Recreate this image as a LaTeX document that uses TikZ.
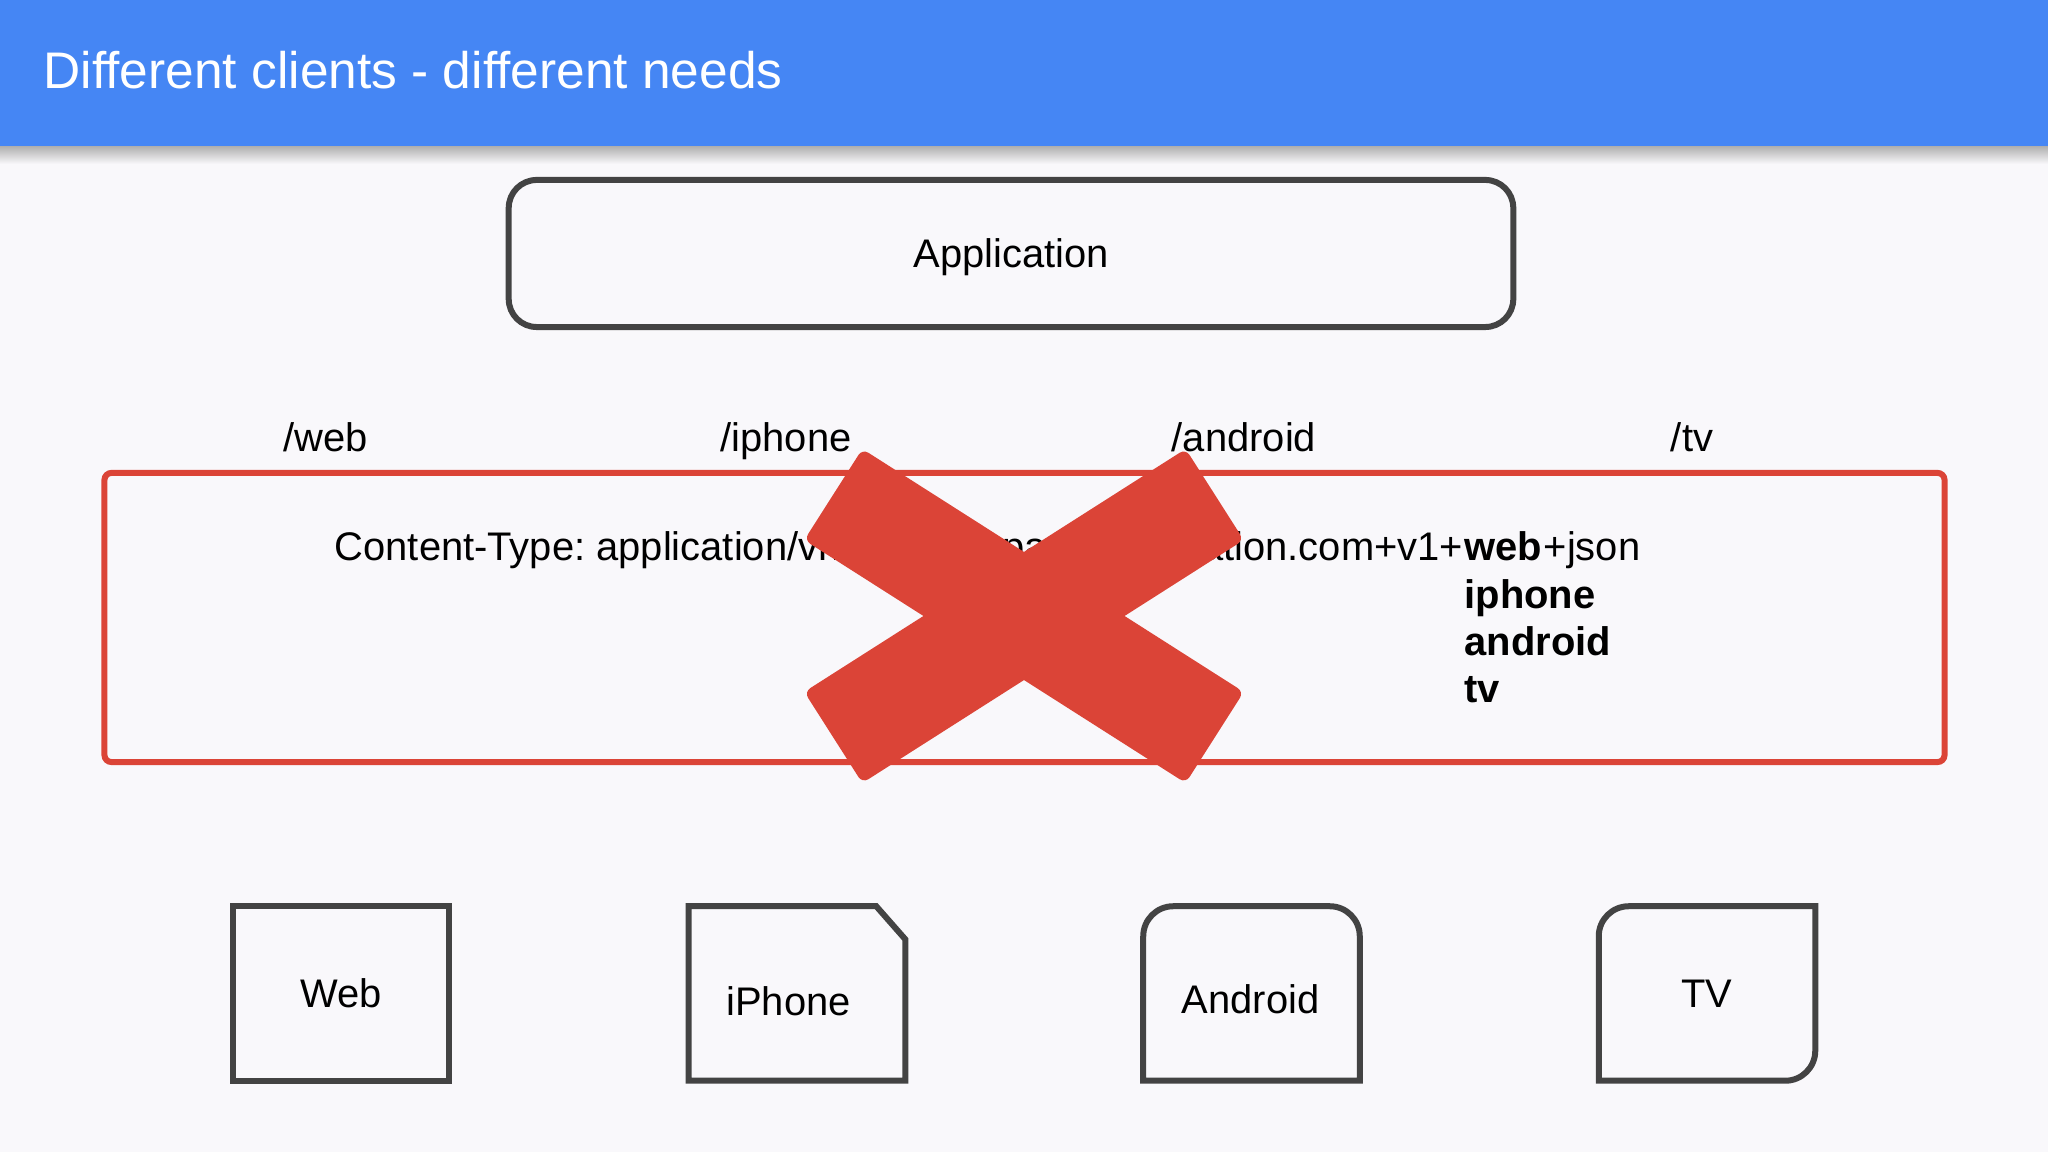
\documentclass[tikz,border=0pt]{standalone}
\usepackage{fontspec}
\setmainfont{Liberation Sans}
\frenchspacing
\definecolor{bg}{HTML}{F9F8FB}
\definecolor{headblue}{HTML}{4586F4}
\definecolor{xred}{HTML}{DB4437}
\definecolor{boxgray}{HTML}{434343}
\begin{document}
\begin{tikzpicture}[x=0.01cm, y=0.01cm,
  txt/.style={font=\fontsize{11.35}{13.5}\selectfont, inner sep=0},
  bold/.style={font=\fontsize{11.35}{13.5}\selectfont\bfseries, inner sep=0},
  route/.style={txt, anchor=base},
  box/.style={draw=boxgray, line width=0.06cm},
  slot/.style={minimum width=2.15cm, minimum height=1.73cm, inner sep=0},
  arm/.style={fill=xred, minimum width=4.52cm, minimum height=1.08cm, rounded corners=2pt}]
\useasboundingbox (0,0) rectangle (2048,1152);
\fill[bg] (0,0) rectangle (2048,1152);
\fill[headblue] (0,1005) rectangle (2048,1152);
\shade[top color=black!30, bottom color=bg] (0,988) rectangle (2048,1005);
\node[anchor=base west, text=white, font=\fontsize{14.63}{17}\selectfont, inner sep=0] (title) at (43,1063) {Different clients - different needs};

\node[box, txt, rounded corners=0.28cm, minimum width=10.04cm, minimum height=1.47cm, text height=0.28cm, text depth=0pt] (app) at (1011,898.5) {Application};

\node[route] (rweb) at (326,700) {/web};
\node[route] (riph) at (786,700) {/iphone};
\node[route] (randr) at (1244,700) {/android};
\node[route] (rtv) at (1692,700) {/tv};

\node[draw=xred, line width=0.06cm, rounded corners=2pt, minimum width=18.39cm, minimum height=2.89cm] (frame) at (1024.5,534.5) {};
\node[txt, anchor=base west] (ctype) at (334,591) {Content-Type: application/vnd.mycompany.application.com+v1+};
\node[bold, anchor=base west] (vweb) at (ctype.base east) {web};
\node[txt, anchor=base west] (json) at (vweb.base east) {+json};
\node[bold, anchor=base west] (viph) at ([yshift=-0.47cm]vweb.base west) {iphone};
\node[bold, anchor=base west] (vandr) at ([yshift=-0.47cm]viph.base west) {android};
\node[bold, anchor=base west] (vtv) at ([yshift=-0.47cm]vandr.base west) {tv};

\node[arm, rotate=-32.5] (armA) at (1024,536) {};
\node[arm, rotate=32.5] (armB) at (1024,536) {};

\node[slot] (web) at (341,158.5) {};
\node[slot] (iph) at (797,158.5) {};
\node[slot] (andr) at (1251.5,158.5) {};
\node[slot] (tv) at (1707,158.5) {};
\draw[box] (web.south west) rectangle (web.north east);
\draw[box] (iph.south west) -- (iph.north west) -- ([xshift=-0.29cm]iph.north east) -- ([yshift=-0.33cm]iph.north east) -- (iph.south east) -- cycle;
\draw[box] (andr.south west) -- ([yshift=-0.3cm]andr.north west) arc[start angle=180, end angle=90, radius=0.3cm] -- ([xshift=-0.3cm]andr.north east) arc[start angle=90, end angle=0, radius=0.3cm] -- (andr.south east) -- cycle;
\draw[box] (tv.south west) -- ([yshift=-0.3cm]tv.north west) arc[start angle=180, end angle=90, radius=0.3cm] -- (tv.north east) -- ([yshift=0.3cm]tv.south east) arc[start angle=0, end angle=-90, radius=0.3cm] -- cycle;
\node[route] (webtxt) at ([yshift=-0.145cm]web.center) {Web};
\node[route] (iphtxt) at ([xshift=-0.085cm, yshift=-0.215cm]iph.center) {iPhone};
\node[route] (andrtxt) at ([xshift=-0.01cm, yshift=-0.195cm]andr.center) {Android};
\node[route] (tvtxt) at ([yshift=-0.145cm]tv.center) {TV};
\end{tikzpicture}
\end{document}
